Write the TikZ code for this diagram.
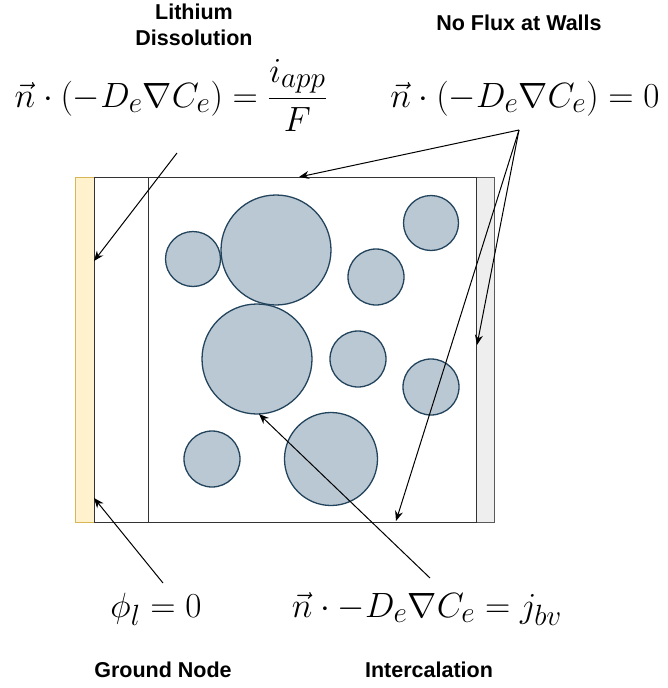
\documentclass[tikz,border=0pt]{standalone}
\usepackage{amsmath,amssymb}
\usepackage{fontspec}
\newfontfamily\labelfont{Liberation Sans}
\usetikzlibrary{arrows.meta,calc}
\definecolor{grainfill}{HTML}{BAC8D3}\definecolor{grainline}{HTML}{23445D}
\definecolor{foilfill}{HTML}{FFF2CC}\definecolor{foilline}{HTML}{D6B656}
\definecolor{wallfill}{HTML}{EEEEEE}\definecolor{wallline}{HTML}{5A5A5A}
\tikzset{>={Stealth[length=10pt,width=8pt]},title/.style={font=\labelfont\bfseries\fontsize{21.5}{26}\selectfont,align=center,inner sep=0pt},
eq/.style={font=\fontsize{24.88}{30}\selectfont,inner sep=0pt,anchor=base,scale=1.41,transform shape},grain/.style={draw=grainline,fill=grainfill,line width=1.3pt},
flow/.style={->,line width=1pt},cell/.style={line width=1pt,draw=black!80}}

\begin{document}
\begin{tikzpicture}[x=1pt,y=-1pt]
\useasboundingbox (0,0) rectangle (668,688);
\filldraw[fill=foilfill,draw=foilline,line width=1pt] (75,177) rectangle (94,522);
\filldraw[fill=wallfill,draw=wallline,line width=1pt] (476,177) rectangle (494,522);
\draw[cell] (94,177) rectangle (476,522);\draw[cell] (148,177)--(148,522);
\foreach \cx/\cy/\r in {193/259/27.5,276/250/55,431/223/27.5,376/277/28,257/359/55,358/359/28,431/387/28,212/459/28,331/459/46.5}
  \draw[grain] (\cx,\cy) circle(\r pt);
\node[title] (dissol) at (194,25) {Lithium\\Dissolution};
\node[title] (noflux) at (519,23) {No Flux at Walls};
\node[eq] (bcfoil) at (171,107) {$\vec{n}\cdot(-D_e\nabla C_e)=\dfrac{i_{app}}{F}$};
\node[eq] (bcwall) at (525,107) {$\vec{n}\cdot(-D_e\nabla C_e)=0$};
\node[eq] (phiground) at (156,617) {$\phi_l=0$};
\node[eq] (bcgrain) at (427,617) {$\vec{n}\cdot-D_e\nabla C_e=j_{bv}$};
\node[title] (gnd) at (163,670) {Ground Node};
\node[title] (inter) at (429,670) {Intercalation};
\coordinate (foilsrc) at (177,153);\coordinate (foiltip) at (94,261);
\coordinate (wallsrc) at (519,130);\coordinate (topwall) at (299,177);\coordinate (sidewall) at (477,345);\coordinate (botwall) at (396,521);
\coordinate (gndsrc) at (163,583);\coordinate (gndtip) at (94,498);
\coordinate (intsrc) at (430,578);\coordinate (inttip) at (259,414);
\draw[flow] (foilsrc)--(foiltip);
\foreach \w in {topwall,sidewall,botwall} \draw[flow] (wallsrc)--(\w);
\draw[flow] (gndsrc)--(gndtip);\draw[flow] (intsrc)--(inttip);
\end{tikzpicture}
\end{document}
